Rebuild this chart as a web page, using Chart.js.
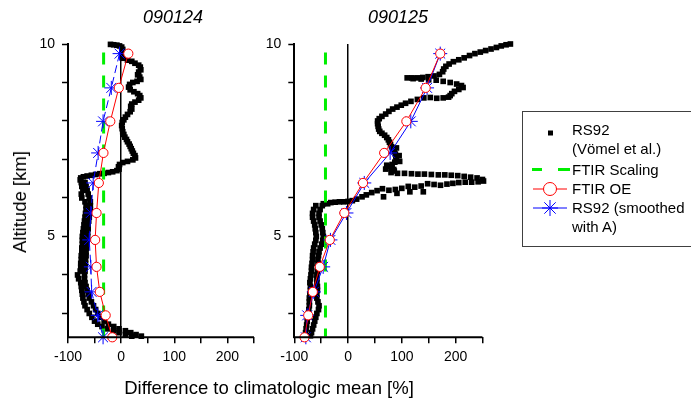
<!DOCTYPE html>
<html>
<head>
<meta charset="utf-8">
<script src="https://cdn.jsdelivr.net/npm/chart.js@4.4.1/dist/chart.umd.min.js"></script>
<style>
  body { margin: 0; background: #fff; width: 691px; height: 403px; overflow: hidden; position: relative;
         font-family: Arial, "Liberation Sans", sans-serif; }
  canvas { position: absolute; top: 0; }
  .t { position: absolute; white-space: nowrap; color: #000; }
  .title { font-size: 18px; font-style: italic; transform: translate(-50%, -50%); }
  .axt { font-size: 18.5px; transform: translate(-50%, -50%); }
  .leg { position: absolute; left: 522px; top: 111px; width: 220px; height: 134px; border: 1px solid #404040; }
  .lt { position: absolute; left: 572px; font-size: 15px; line-height: 19px; white-space: nowrap; }
</style>
</head>
<body>
<canvas id="c1" width="262" height="403" style="left:0"></canvas>
<canvas id="c2" width="258" height="403" style="left:262px"></canvas>

<div class="t title" style="left:173px;top:17px">090124</div>
<div class="t title" style="left:398px;top:17px">090125</div>
<div class="t axt" style="left:19.5px;top:202px;transform:translate(-50%,-50%) rotate(-90deg)">Altitude [km]</div>
<div class="t axt" style="left:269px;top:388px">Difference to climatologic mean [%]</div>

<div class="leg"></div>
<svg style="position:absolute;left:0;top:0" width="691" height="403">
  <rect x="548" y="130.5" width="5" height="5" fill="#000"/>
  <line x1="532" y1="169.5" x2="542" y2="169.5" stroke="#00ee00" stroke-width="3"/>
  <line x1="558" y1="169.5" x2="570" y2="169.5" stroke="#00ee00" stroke-width="3"/>
  <line x1="533" y1="189" x2="567" y2="189" stroke="#ff0000" stroke-width="1"/>
  <circle cx="550" cy="189" r="6.5" fill="#fff" stroke="#ff0000" stroke-width="1"/>
  <line x1="533" y1="208" x2="567" y2="208" stroke="#0000ff" stroke-width="1"/>
  <g stroke="#0000ff" stroke-width="1">
    <line x1="542" y1="208" x2="558" y2="208"/>
    <line x1="550" y1="200" x2="550" y2="216"/>
    <line x1="544.3" y1="202.3" x2="555.7" y2="213.7"/>
    <line x1="544.3" y1="213.7" x2="555.7" y2="202.3"/>
  </g>
</svg>
<div class="lt" style="top:120px">RS92</div>
<div class="lt" style="top:139px">(Vömel et al.)</div>
<div class="lt" style="top:160px">FTIR Scaling</div>
<div class="lt" style="top:179px">FTIR OE</div>
<div class="lt" style="top:198px">RS92 (smoothed</div>
<div class="lt" style="top:217px">with A)</div>

<script>
// retrieval grid altitudes [km] of the FTIR profiles
const altGrid = [9.75, 8.86, 7.99, 7.17, 6.39, 5.61, 4.91, 4.21, 3.56, 2.95, 2.38];

// 090124
const oe_090124 = [13.5, -4.4, -20.4, -33.3, -42, -46.3, -48.9, -46.3, -40.2, -29.1, -16.7];
const smooth_090124 = [-3, -18.5, -34, -43.3, -52.6, -57, -60, -57, -55.6, -44, -34];
const scaling_090124 = -33;
// RS92 sonde, [altitude, difference]
const rs92_090124 = [
  [9.99,-20],[9.98,-14],[9.97,-8],[9.95,-3],[9.92,1],[9.86,3],[9.78,2],[9.70,1],[9.63,5],[9.58,12],
  [9.55,20],[9.50,26],[9.45,33],[9.40,36],[9.33,37],[9.27,33],[9.20,31],[9.14,35],[9.08,37],[9.03,30],
  [9.00,22],[8.95,16],[8.88,14],[8.81,17],[8.76,24],[8.71,31],[8.66,35],[8.60,37],[8.54,33],[8.49,26],
  [8.44,20],[8.38,18],[8.31,20],[8.24,17],[8.17,12],[8.10,8],[8.03,5],[7.96,2],[7.88,1],[7.80,2],
  [7.72,3],[7.65,5],[7.58,7],[7.52,10],[7.46,12],[7.40,15],[7.34,17],[7.28,19],[7.22,21],[7.16,23],
  [7.10,26],[7.04,27],[6.99,22],[6.95,12],[6.92,3],[6.87,-3],[6.81,-5],[6.75,-4],[6.71,-8],[6.68,-16],
  [6.66,-24],[6.64,-32],[6.63,-40],[6.61,-48],[6.59,-56],[6.57,-64],[6.55,-71],[6.52,-76],[6.47,-77],
  [6.40,-75],[6.40,-68],[6.30,-74],[6.30,-66],[6.20,-72],[6.20,-64],[6.10,-75],[6.10,-62],[6.00,-74],[6.00,-60],
  [5.90,-68],[5.90,-58],[5.80,-66],[5.80,-58],[5.70,-66],[5.70,-58],[5.60,-67],[5.60,-59],[5.50,-68],[5.50,-60],
  [5.40,-69],[5.40,-61],[5.30,-70],[5.30,-62],[5.20,-71],[5.20,-62],[5.10,-72],[5.10,-63],[5.00,-73],[5.00,-63],
  [4.90,-73],[4.90,-64],[4.80,-73],[4.80,-65],[4.70,-74],[4.70,-65],[4.60,-74],[4.60,-66],[4.50,-75],[4.50,-66],
  [4.40,-75],[4.40,-67],[4.30,-76],[4.30,-67],[4.20,-76],[4.20,-68],[4.10,-77],[4.10,-68],[4.00,-82],[4.00,-69],
  [3.90,-80],[3.90,-69],[3.80,-76],[3.80,-68],[3.70,-75],[3.70,-66],[3.60,-74],[3.60,-64],[3.50,-73],[3.50,-62],
  [3.40,-72],[3.40,-60],[3.30,-70],[3.30,-56],[3.20,-68],[3.20,-52],[3.10,-64],[3.10,-48],[3.00,-60],[3.00,-44],
  [2.90,-55],[2.90,-38],[2.80,-50],[2.80,-32],[2.72,-44],[2.72,-24],[2.66,-36],[2.66,-14],[2.60,-26],[2.60,-4],
  [2.55,-14],[2.55,8],[2.50,-4],[2.50,18],[2.45,8],[2.45,28],[2.41,20],[2.41,38]
];

// 090125
const oe_090125 = [171.5, 144.4, 108.5, 67.2, 27.8, -6.9, -34, -52.6, -65.6, -74.1, -80.9];
const smooth_090125 = [171.5, 147, 116.7, 78.3, 30.2, -3, -32.8, -46.3, -63.7, -76, -78.5];
const scaling_090125 = -42;
const rs92_090125 = [
  [10.00,302],[9.98,294],[9.95,285],[9.91,276],[9.87,266],[9.83,256],[9.79,246],[9.75,236],[9.70,226],[9.64,216],
  [9.59,206],[9.54,196],[9.48,188],[9.42,182],[9.35,178],[9.28,176],[9.21,170],[9.17,160],[9.15,149],[9.13,139],
  [9.12,129],[9.12,119],[9.12,110],[9.10,121],[9.09,136],[9.07,150],[9.06,164],[9.03,177],[9.00,190],[8.96,202],
  [8.92,211],[8.87,214],[8.82,206],[8.77,198],[8.71,193],[8.66,190],[8.62,187],[8.60,177],[8.59,165],[8.61,153],
  [8.60,141],[8.56,129],[8.51,117],[8.46,107],[8.41,99],[8.36,91],[8.31,83],[8.25,76],[8.18,70],[8.12,63],
  [8.06,58],[8.00,55],[7.93,55],[7.86,56],[7.79,57],[7.73,59],[7.68,63],[7.63,68],[7.57,72],[7.51,75],
  [7.45,77],[7.39,79],[7.33,81],[7.27,83],[7.21,86],[7.14,88],[7.07,89],[7.00,90],[6.93,87],[6.87,82],
  [6.82,77],[6.78,80],[6.74,85],[6.70,86],[6.66,80],[7.30,90],[7.10,95],[6.95,96],[6.85,72],[6.75,70],
  [6.64,92],[6.64,105],[6.63,118],[6.62,130],[6.62,142],[6.61,155],[6.60,168],[6.60,180],[6.59,192],[6.58,204],
  [6.56,216],[6.54,228],[6.52,240],[6.48,250],[6.44,252],[6.42,242],[6.41,230],[6.41,218],[6.40,206],[6.38,195],
  [6.36,184],[6.33,172],[6.35,160],[6.37,148],[6.31,136],[6.28,124],[6.30,112],[6.25,100],[6.22,88],[6.20,76],
  [6.24,64],[6.19,54],[6.14,44],[6.08,34],[6.03,26],[5.97,16],[5.93,8],[5.91,0],[5.90,-8],[5.90,-16],
  [5.89,-24],[5.88,-32],[6.03,66],[6.12,91],[6.16,115],[6.16,140],
  [5.85,-46],[5.85,-38],[5.80,-60],[5.80,-48],[5.70,-64],[5.70,-52],[5.60,-66],[5.60,-54],[5.50,-66],[5.50,-54],
  [5.40,-64],[5.40,-52],[5.30,-62],[5.30,-50],[5.20,-61],[5.20,-48],[5.10,-60],[5.10,-47],[5.00,-59],[5.00,-46],
  [4.90,-60],[4.90,-47],[4.80,-62],[4.80,-49],[4.70,-64],[4.70,-52],[4.60,-65],[4.60,-54],[4.50,-66],[4.50,-55],
  [4.40,-66],[4.40,-56],[4.30,-67],[4.30,-56],[4.20,-68],[4.20,-56],[4.10,-68],[4.10,-57],[4.00,-69],[4.00,-58],
  [3.90,-70],[3.90,-58],[3.80,-71],[3.80,-58],[3.70,-70],[3.70,-57],[3.60,-70],[3.60,-57],[3.50,-71],[3.50,-58],
  [3.40,-72],[3.40,-58],[3.30,-72],[3.30,-56],[3.20,-72],[3.20,-54],[3.10,-73],[3.10,-55],[3.00,-74],[3.00,-58],
  [2.90,-75],[2.90,-60],[2.80,-76],[2.80,-62],[2.70,-77],[2.70,-64],[2.60,-78],[2.60,-66],[2.50,-79],[2.50,-68],
  [2.42,-80],[2.42,-70]
];

// axes
const xTicks = [-100, -50, 0, 50, 100, 150, 200, 250];
const xLabels = [-100, 0, 100, 200];
const xAxisMin = -100;
const xAxisMax = 250;
const yTicks = [3, 4, 5, 6, 7, 8, 9, 10];
const yLabels = [5, 10];
const scalingTop = 9.78;
const scalingBottom = 2.4;

const FONT = 'Arial, "Liberation Sans", sans-serif';

// the x axis line stops at 250 even where the sonde data runs past it
const axisLine = {
    id: 'axisLine',
    afterDraw(chart) {
        const ctx = chart.ctx;
        const x = chart.scales.x;
        const y0 = chart.chartArea.bottom;
        ctx.save();
        ctx.strokeStyle = '#000';
        ctx.lineWidth = 2;
        ctx.beginPath();
        ctx.moveTo(x.getPixelForValue(xAxisMin) - 1, y0);
        ctx.lineTo(x.getPixelForValue(xAxisMax), y0);
        ctx.stroke();
        ctx.restore();
    }
};

function makePanel(id, rs92, oe, smooth, scaling, yWidth, padRight, xMax, blueDash) {
    const toPts = vals => vals.map((v, i) => ({ x: v, y: altGrid[i] }));
    new Chart(document.getElementById(id), {
        type: 'scatter',
        data: {
            datasets: [
                {
                    label: 'FTIR OE',
                    data: toPts(oe),
                    showLine: true,
                    borderColor: '#ff0000',
                    borderWidth: 1,
                    pointStyle: 'circle',
                    pointRadius: 4.6,
                    pointBackgroundColor: '#fff',
                    pointBorderColor: '#ff0000',
                    pointBorderWidth: 1,
                    clip: false
                },
                {
                    label: 'RS92 (smoothed with A)',
                    data: toPts(smooth),
                    showLine: true,
                    borderColor: '#0000ff',
                    borderWidth: 1,
                    borderDash: blueDash,
                    pointStyle: 'star',
                    pointRadius: 7,
                    pointBorderColor: '#0000ff',
                    pointBorderWidth: 1,
                    clip: false
                },
                {
                    label: 'FTIR Scaling',
                    data: [{ x: scaling, y: scalingTop }, { x: scaling, y: scalingBottom }],
                    showLine: true,
                    borderColor: '#00ee00',
                    borderWidth: 3,
                    borderDash: [12, 11],
                    pointRadius: 0,
                    clip: false
                },
                {
                    label: 'RS92',
                    data: rs92.map(p => ({ x: p[1], y: p[0] })),
                    showLine: false,
                    pointStyle: 'rect',
                    pointRadius: 4,
                    pointBackgroundColor: '#000',
                    pointBorderWidth: 0,
                    clip: false
                }
            ]
        },
        options: {
            responsive: false,
            animation: false,
            devicePixelRatio: 1,
            events: [],
            layout: { padding: { left: 0, top: 44, right: padRight, bottom: 35.7 } },
            plugins: { legend: { display: false }, tooltip: { enabled: false } },
            scales: {
                x: {
                    type: 'linear',
                    min: xAxisMin,
                    max: xMax,
                    afterBuildTicks: s => { s.ticks = xTicks.map(v => ({ value: v })); },
                    afterFit: s => { s.height = 30; },
                    ticks: {
                        autoSkip: false,
                        maxRotation: 0,
                        padding: 5,
                        color: '#000',
                        font: { family: FONT, size: 14 },
                        callback: v => xLabels.includes(v) ? String(v) : ''
                    },
                    grid: {
                        drawOnChartArea: true,
                        color: c => (c.tick && c.tick.value === 0) ? '#000' : 'rgba(0,0,0,0)',
                        lineWidth: 1.5,
                        tickColor: '#000',
                        tickLength: 6,
                        tickWidth: 1.5
                    },
                    border: { display: false }
                },
                y: {
                    type: 'linear',
                    min: 2.38,
                    max: 10,
                    afterBuildTicks: s => { s.ticks = yTicks.map(v => ({ value: v })); },
                    afterFit: s => { s.width = yWidth; },
                    ticks: {
                        autoSkip: false,
                        padding: 7,
                        color: '#000',
                        font: { family: FONT, size: 14 },
                        callback: v => yLabels.includes(v) ? String(v) : ''
                    },
                    grid: {
                        drawOnChartArea: false,
                        tickColor: '#000',
                        tickLength: 6,
                        tickWidth: 1.5
                    },
                    border: { display: true, color: '#000', width: 2 }
                }
            }
        },
        plugins: [axisLine]
    });
}

// panel 2 plot area runs to 305 % so the sonde points right of the axis end are drawn
makePanel('c1', rs92_090124, oe_090124, smooth_090124, scaling_090124, 68, 5.3, 250, [8, 4]);
makePanel('c2', rs92_090125, oe_090125, smooth_090125, scaling_090125, 32.3, 7, 305, []);
</script>
</body>
</html>
